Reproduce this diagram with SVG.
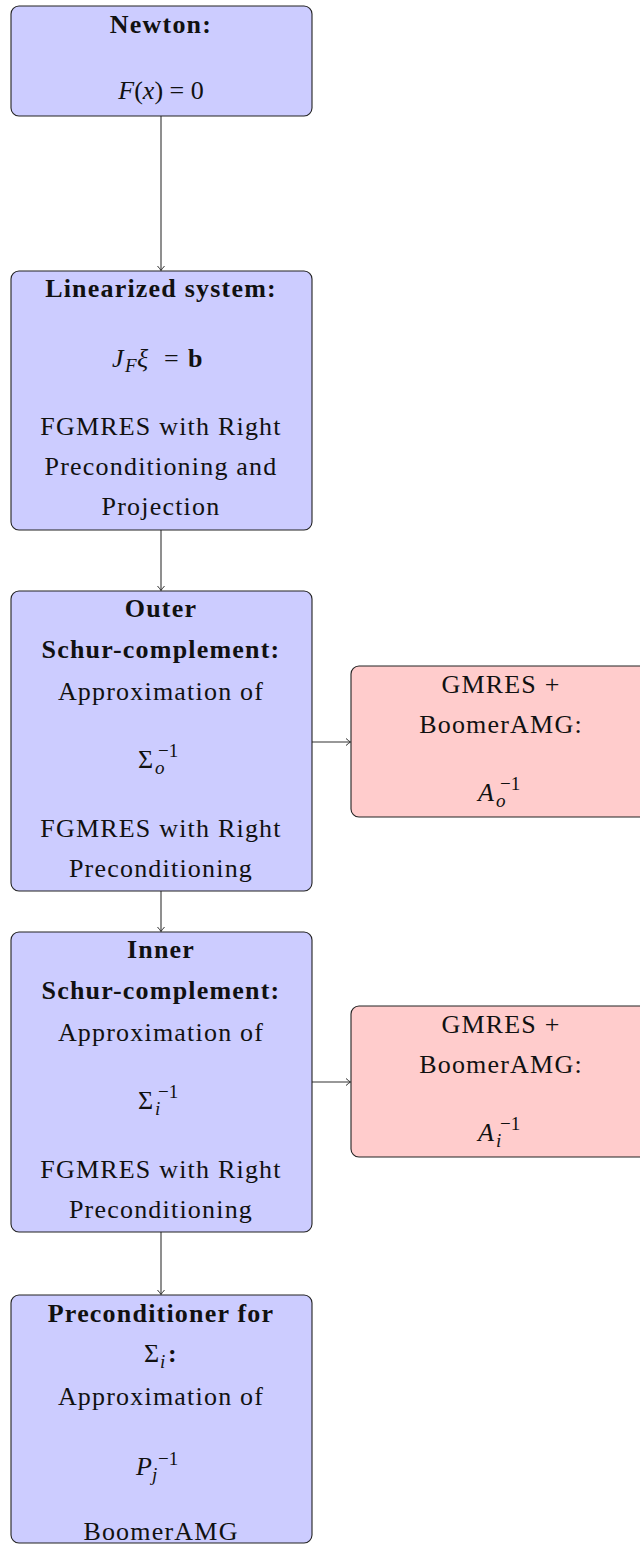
<svg xmlns="http://www.w3.org/2000/svg" width="640" height="1544" viewBox="0 0 640 1544">
<style>
.blue{fill:#ccccff;stroke:#222;stroke-width:1.1}
.pink{fill:#ffcccc;stroke:#222;stroke-width:1.1}
text{font-family:"Liberation Serif","Times New Roman",serif;font-size:26px;fill:#111}
.t{text-anchor:middle;letter-spacing:1.2px}
.b{font-weight:bold}
.i{font-style:italic}
.s{font-size:19px}
.c{fill:none;stroke:#333;stroke-width:1.1}
</style>
<defs>
<marker id="arr" markerUnits="userSpaceOnUse" markerWidth="12" markerHeight="12" viewBox="-6 -6 12 12" refX="0" refY="0" orient="auto">
<path d="M-4.5,-3.5 Q-1.2,-0.6 0,0 Q-1.2,0.6 -4.5,3.5" fill="none" stroke="#333" stroke-width="1"/>
</marker>
</defs>
<g id="connectors">
<line class="c" x1="161" y1="116" x2="161" y2="270.5" marker-end="url(#arr)"/>
<line class="c" x1="161" y1="530" x2="161" y2="590.5" marker-end="url(#arr)"/>
<line class="c" x1="161" y1="891" x2="161" y2="931.5" marker-end="url(#arr)"/>
<line class="c" x1="161" y1="1232" x2="161" y2="1294.5" marker-end="url(#arr)"/>
<line class="c" x1="312" y1="742" x2="350.5" y2="742" marker-end="url(#arr)"/>
<line class="c" x1="312" y1="1082" x2="350.5" y2="1082" marker-end="url(#arr)"/>
</g>
<g id="newton">
<rect class="blue" x="11" y="6" width="301" height="110" rx="8"/>
<text class="t b" x="161" y="33">Newton:</text>
<text x="161" y="99" text-anchor="middle"><tspan class="i">F</tspan>(<tspan class="i">x</tspan>) = 0</text>
</g>
<g id="linearized">
<rect class="blue" x="11" y="271" width="301" height="259" rx="8"/>
<text class="t b" x="161" y="297">Linearized system:</text>
<text><tspan class="i" x="112" y="367">J</tspan><tspan class="i s" x="125" y="372">F</tspan><tspan class="i" x="137" y="367">ξ</tspan><tspan x="164" y="367">=</tspan><tspan class="b" x="188" y="367">b</tspan></text>
<text class="t" x="161" y="435">FGMRES with Right</text>
<text class="t" x="161" y="475">Preconditioning and</text>
<text class="t" x="161" y="515">Projection</text>
</g>
<g id="outer">
<rect class="blue" x="11" y="591" width="301" height="300" rx="8"/>
<text class="t b" x="161" y="617">Outer</text>
<text class="t b" x="161" y="658">Schur-complement:</text>
<text class="t" x="161" y="700">Approximation of</text>
<text><tspan x="138" y="768">Σ</tspan><tspan class="i s" x="155" y="774">o</tspan><tspan class="s" x="158" y="757">−1</tspan></text>
<text class="t" x="161" y="837">FGMRES with Right</text>
<text class="t" x="161" y="877">Preconditioning</text>
</g>
<g id="outer-amg">
<rect class="pink" x="351" y="666" width="301" height="151" rx="8"/>
<text class="t" x="501" y="693">GMRES +</text>
<text class="t" x="501" y="733">BoomerAMG:</text>
<text><tspan class="i" x="478" y="801">A</tspan><tspan class="i s" x="496" y="807">o</tspan><tspan class="s" x="500" y="790">−1</tspan></text>
</g>
<g id="inner">
<rect class="blue" x="11" y="932" width="301" height="300" rx="8"/>
<text class="t b" x="161" y="958">Inner</text>
<text class="t b" x="161" y="999">Schur-complement:</text>
<text class="t" x="161" y="1041">Approximation of</text>
<text><tspan x="138" y="1109">Σ</tspan><tspan class="i s" x="155" y="1115">i</tspan><tspan class="s" x="158" y="1098">−1</tspan></text>
<text class="t" x="161" y="1178">FGMRES with Right</text>
<text class="t" x="161" y="1218">Preconditioning</text>
</g>
<g id="inner-amg">
<rect class="pink" x="351" y="1006" width="301" height="151" rx="8"/>
<text class="t" x="501" y="1033">GMRES +</text>
<text class="t" x="501" y="1073">BoomerAMG:</text>
<text><tspan class="i" x="478" y="1141">A</tspan><tspan class="i s" x="496" y="1147">i</tspan><tspan class="s" x="500" y="1130">−1</tspan></text>
</g>
<g id="preconditioner">
<rect class="blue" x="11" y="1295" width="301" height="248" rx="8"/>
<text class="t b" x="161" y="1322">Preconditioner for</text>
<text><tspan x="144" y="1362">Σ</tspan><tspan class="i s" x="160" y="1368">i</tspan><tspan class="b" x="168" y="1362">:</tspan></text>
<text class="t" x="161" y="1405">Approximation of</text>
<text><tspan class="i" x="136" y="1475">P</tspan><tspan class="i s" x="152" y="1481">j</tspan><tspan class="s" x="158" y="1465">−1</tspan></text>
<text class="t" x="161" y="1540">BoomerAMG</text>
</g>
</svg>
